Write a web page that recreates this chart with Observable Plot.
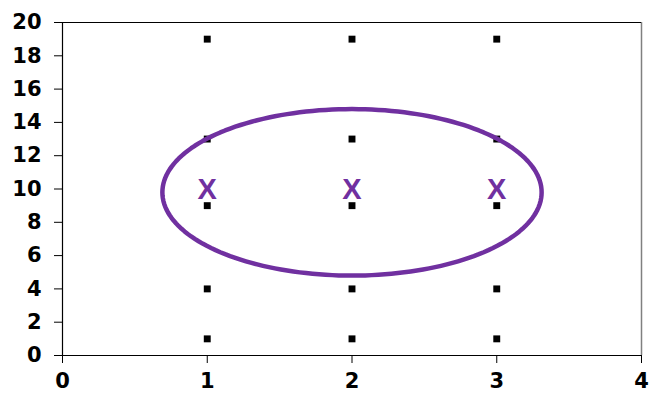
<!DOCTYPE html>
<html>
<head>
<meta charset="utf-8">
<script src="https://cdn.jsdelivr.net/npm/d3@7"></script>
<script src="https://cdn.jsdelivr.net/npm/@observablehq/plot@0.6"></script>
<style>
  html, body { margin: 0; padding: 0; background: #fff; }
  #chart svg { display: block; }
  #chart svg g[aria-label="x-axis tick label"] text,
  #chart svg g[aria-label="y-axis tick label"] text { font-size: 21px; font-weight: bold; }
</style>
</head>
<body>
<div id="chart"></div>
<script>
// Data
const groups = [1, 2, 3];
const values = [1, 4, 9, 13, 19];
const markerY = 10;
const markerLabel = "X";
const xTicks = [0, 1, 2, 3, 4];
const yTicks = [0, 2, 4, 6, 8, 10, 12, 14, 16, 18, 20];
const ellipseCenter = [2, 9.8];
const ellipseRadii = [1.31, 5.0];

const points = groups.flatMap(g => values.map(v => ({x: g, y: v})));
const markers = groups.map(g => ({x: g, y: markerY, label: markerLabel}));
const ellipsePts = d3.range(0, 360, 2).map(a => {
  const t = a * Math.PI / 180;
  return {x: ellipseCenter[0] + ellipseRadii[0] * Math.cos(t), y: ellipseCenter[1] + ellipseRadii[1] * Math.sin(t)};
});

const purple = "#7030A0";
const font = "'DejaVu Sans', 'Liberation Sans', Arial, sans-serif";

const chart = Plot.plot({
  width: 652,
  height: 403,
  marginLeft: 62,
  marginRight: 11,
  marginTop: 22,
  marginBottom: 48,
  style: {fontFamily: font, fontSize: "21px", background: "#fff", overflow: "visible"},
  x: {domain: [0, 4], label: null},
  y: {domain: [0, 20], label: null},
  marks: [
    Plot.ruleX([4], {stroke: "#808080", strokeWidth: 1.5}),
    Plot.ruleY([20], {stroke: "#000", strokeWidth: 1.2}),
    Plot.ruleX([0], {stroke: "#000", strokeWidth: 1.2}),
    Plot.ruleY([0], {stroke: "#000", strokeWidth: 1.2}),
    Plot.axisX({ticks: xTicks, tickFormat: d3.format("d"), tickSize: 8, tickPadding: 10, fontSize: 21, fontWeight: "bold", stroke: "#000", fill: "#000", label: null}),
    Plot.axisY({ticks: yTicks, tickFormat: d3.format("d"), tickSize: 8, tickPadding: 13, fontSize: 21, fontWeight: "bold", stroke: "#000", fill: "#000", label: null}),
    Plot.dot(points, {x: "x", y: "y", symbol: "square", r: 3.9, fill: "#000", stroke: "none"}),
    Plot.line(ellipsePts, {x: "x", y: "y", curve: "linear-closed", stroke: purple, strokeWidth: 4.5}),
    Plot.text(markers, {x: "x", y: "y", text: "label", fill: purple, fontSize: 29, fontWeight: "bold", fontFamily: "'Liberation Sans', Arial, sans-serif", dy: 1})
  ]
});
document.getElementById("chart").appendChild(chart);
</script>
</body>
</html>
